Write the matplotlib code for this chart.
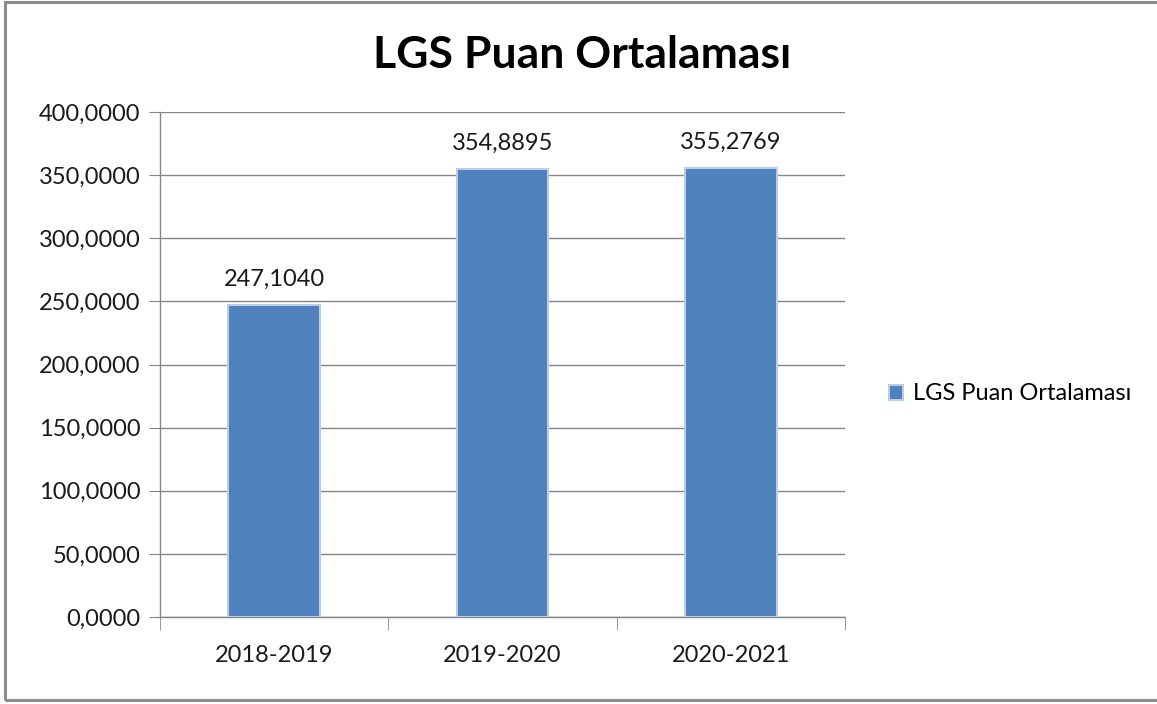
import matplotlib.pyplot as plt
from matplotlib.patches import Rectangle
from matplotlib.ticker import FixedLocator, FuncFormatter

# veriler
yillar = ["2018-2019", "2019-2020", "2020-2021"]
puanlar = [247.1040, 354.8895, 355.2769]
seri_adi = "LGS Puan Ortalaması"

plt.rcParams['font.family'] = ['Lato', 'DejaVu Sans']

def virgul(v, pos=None):
    return f"{v:.4f}".replace(".", ",")

fig = plt.figure(figsize=(11.57, 7.04), dpi=100)
ax = fig.add_axes([160/1157, 1 - 617/704, (845-160)/1157, (617-112)/704])

# çerçeve
fig.patches.append(Rectangle((5/1157, 4/704), 1.2, 1 - 6/704, transform=fig.transFigure,
                             fill=False, edgecolor="#8c8c8c", linewidth=2.2))

x = range(len(yillar))
bars = ax.bar(x, puanlar, width=0.4, color="#4F81BD", edgecolor="#B9CDE5",
              linewidth=1.5, label=seri_adi, zorder=3)
for i, v in enumerate(puanlar):
    ax.text(i, v + 12, virgul(v), ha="center", va="bottom", fontsize=17, color="#1a1a1a")

ax.set_xlim(-0.5, 2.5)
ax.set_ylim(0, 400)
ax.set_yticks(range(0, 401, 50))
ax.yaxis.set_major_formatter(FuncFormatter(virgul))
ax.set_xticks(list(x))
ax.set_xticklabels(yillar)
ax.xaxis.set_minor_locator(FixedLocator([-0.5, 0.5, 1.5, 2.5]))
ax.tick_params(axis="x", which="major", length=0, pad=20, labelsize=17, labelcolor="#1a1a1a")
ax.tick_params(axis="x", which="minor", length=9, color="#868686", direction="out")
ax.tick_params(axis="y", length=8, color="#868686", labelsize=17, labelcolor="#1a1a1a", pad=6)

ax.grid(axis="y", color="#868686", linewidth=1, zorder=0)
for s in ["top", "right"]:
    ax.spines[s].set_visible(False)
for s in ["left", "bottom"]:
    ax.spines[s].set_color("#868686")
    ax.spines[s].set_linewidth(1)

fig.text(582/1157, 1 - 55/704, "LGS Puan Ortalaması", ha="center", va="center",
         fontsize=32, fontweight="bold", color="black")

fig.legend(handles=[bars], labels=[seri_adi], loc="center left",
           bbox_to_anchor=(868/1157, 1 - 394/704), frameon=False, fontsize=17,
           handlelength=0.6, handleheight=0.6, handletextpad=0.4)

fig.savefig("out.png", dpi=100)
